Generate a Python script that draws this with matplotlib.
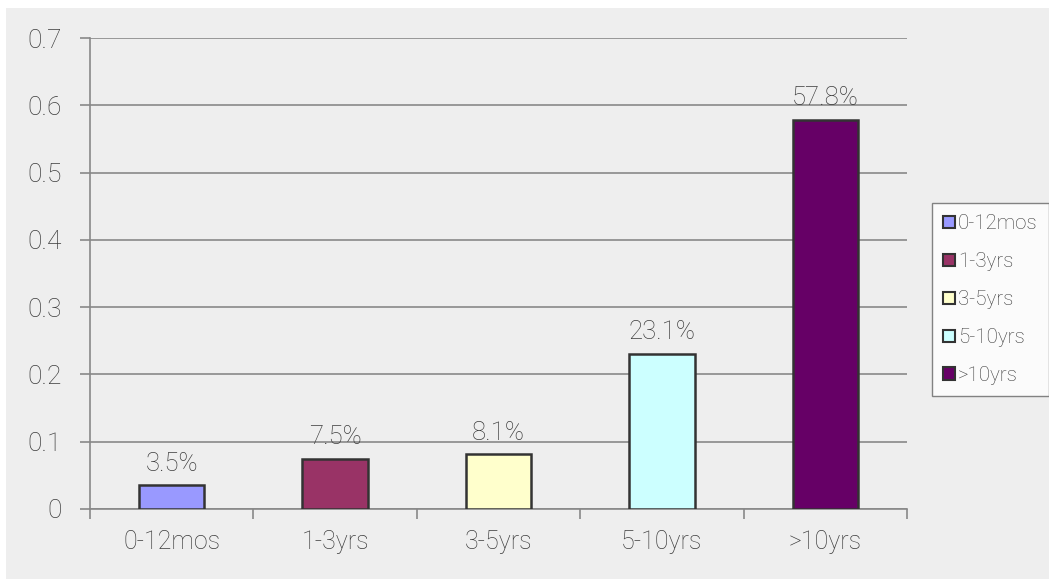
import numpy as np
import matplotlib.pyplot as plt
from matplotlib.patches import Rectangle, Patch

categories = ['0-12mos', '1-3yrs', '3-5yrs', '5-10yrs', '>10yrs']
values = [0.035, 0.075, 0.081, 0.231, 0.578]
colors = ['#9999FF', '#993366', '#FFFFCC', '#CCFFFF', '#660066']
yticks = [0, 0.1, 0.2, 0.3, 0.4, 0.5, 0.6, 0.7]

plt.rcParams['font.family'] = ['Roboto', 'DejaVu Sans']
plt.rcParams['font.weight'] = 'light'
text_color = '#3c3c3c'
line_color = '#888888'
bg = '#eeeeee'

fig = plt.figure(figsize=(10.49, 5.79), dpi=100, facecolor='white')
fig.patches.append(Rectangle((6 / 1049, 0), 1, 1 - 8 / 579, transform=fig.transFigure,
                             facecolor=bg, edgecolor='none', zorder=-10))
ax = fig.add_axes([90 / 1049, 1 - 509 / 579, (907 - 90) / 1049, (509 - 38) / 579])
ax.set_facecolor(bg)

x = np.arange(len(categories))
ax.bar(x, values, width=0.4, color=colors, edgecolor='#333333', linewidth=1.8, zorder=3)
for xi, v in zip(x, values):
    ax.annotate(f'{v * 100:.1f}%', (xi, v), xytext=(0, 7), textcoords='offset points',
                ha='center', va='bottom', fontsize=18.5, color=text_color)

ax.set_xlim(-0.5, len(categories) - 0.5)
ax.set_ylim(0, 0.7)
ax.set_yticks(yticks)
ax.set_yticklabels(['0' if t == 0 else f'{t:.1f}' for t in yticks],
                   fontsize=19, color=text_color)
ax.yaxis.grid(True, color=line_color, linewidth=1.2, zorder=0)
ax.set_axisbelow(True)

# category boundaries get the tick marks, names sit between them
ax.set_xticks(np.arange(len(categories) + 1) - 0.5)
ax.set_xticklabels([])
ax.set_xticks(x, minor=True)
ax.set_xticklabels(categories, minor=True, fontsize=18, color=text_color)
ax.tick_params(axis='x', which='minor', length=0, pad=15)
ax.tick_params(axis='x', which='major', length=7, color=line_color, width=1.2)
ax.tick_params(axis='y', length=7, color=line_color, width=1.2, pad=13)

for s in ['top', 'right']:
    ax.spines[s].set_visible(False)
for s in ['left', 'bottom']:
    ax.spines[s].set_color(line_color)
    ax.spines[s].set_linewidth(1.2)

handles = [Patch(facecolor=c, edgecolor='#333333', linewidth=1.5) for c in colors]
leg = fig.legend(handles, categories, loc='upper left', bbox_to_anchor=(932 / 1049, 1 - 203 / 579),
                 frameon=True, fancybox=False, fontsize=14.8, handlelength=0.55, handleheight=0.55,
                 handletextpad=0.15, labelspacing=0.92, borderpad=0.55, borderaxespad=0)
leg.get_frame().set_edgecolor('#666666')
leg.get_frame().set_facecolor('white')
leg.get_frame().set_linewidth(1.0)
for t in leg.get_texts():
    t.set_color(text_color)

fig.savefig('out.png', dpi=100, facecolor='white')
